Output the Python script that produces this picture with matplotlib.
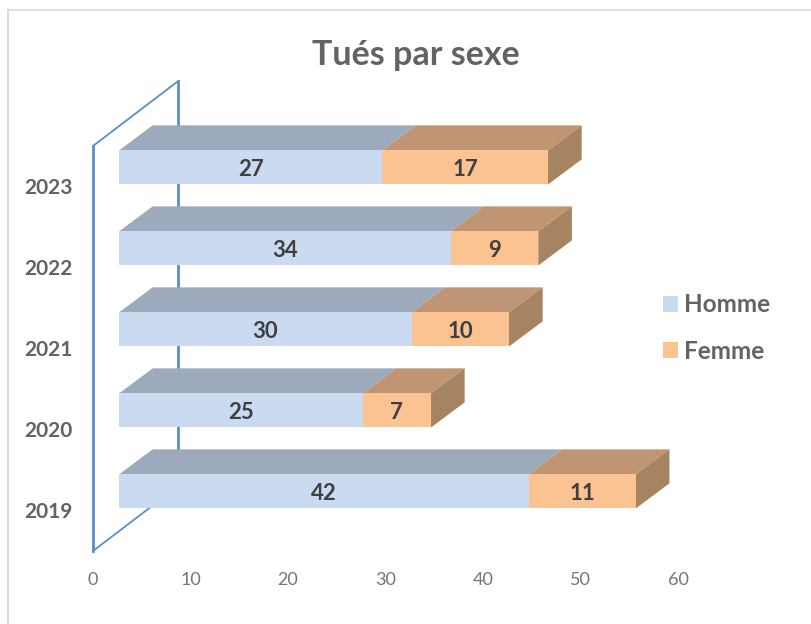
import matplotlib
matplotlib.use("Agg")
import matplotlib.pyplot as plt
from matplotlib.lines import Line2D
from matplotlib.patches import Patch

plt.rcParams["font.family"] = ["Lato", "DejaVu Sans"]

years = ["2019", "2020", "2021", "2022", "2023"]
homme = [42, 25, 30, 34, 27]
femme = [11, 7, 10, 9, 17]
xticks = [0, 10, 20, 30, 40, 50, 60]

W, H = 812, 624
fig = plt.figure(figsize=(W / 100, H / 100), dpi=100, facecolor="white")
# axes box = front plane of the wall
ax = fig.add_axes([93 / W, 1 - 551 / H, (678 - 93) / W, (551 - 146) / H])
ax.set_xlim(0, 60)
ax.set_ylim(-0.5, 4.5)
for s in ax.spines.values():
    s.set_visible(False)
ax.patch.set_visible(False)

# 3d look, in data units
wall_dx, wall_dy = 8.72, 0.80
shift_x, shift_y = 2.67, 0.235
depth_x, depth_y = 3.45, 0.31
bar_h = 0.42
label_dy = -0.03

blue = "#5B8DC8"
ax.plot([0, 0], [-0.5, 4.5], color=blue, lw=2, clip_on=False, zorder=1)
ax.plot([wall_dx, wall_dx], [-0.5 + wall_dy, 4.5 + wall_dy], color=blue, lw=2, clip_on=False, zorder=1)
ax.plot([0, wall_dx], [4.5, 4.5 + wall_dy], color=blue, lw=1.3, clip_on=False, zorder=1)
ax.plot([0, wall_dx], [-0.5, -0.5 + wall_dy], color=blue, lw=1.3, clip_on=False, zorder=1)


def top_face(x0, x1, y, color):
    yt = y + shift_y + bar_h / 2
    ax.fill([x0 + shift_x, x1 + shift_x, x1 + shift_x + depth_x, x0 + shift_x + depth_x],
            [yt, yt, yt + depth_y, yt + depth_y], color=color, lw=0, clip_on=False, zorder=3)


for i in range(len(years)):
    h, f = homme[i], femme[i]
    end = h + f
    yc = i + shift_y
    top_face(0, h, i, "#9CAABB")
    top_face(h, end, i, "#BF9573")
    # side face
    xr = end + shift_x
    ax.fill([xr, xr + depth_x, xr + depth_x, xr],
            [yc - bar_h / 2, yc - bar_h / 2 + depth_y, yc + bar_h / 2 + depth_y, yc + bar_h / 2],
            color="#A78461", lw=0, clip_on=False, zorder=3)
    ax.barh(yc, h, left=shift_x, height=bar_h, color="#C9DAF1", lw=0, zorder=4)
    ax.barh(yc, f, left=shift_x + h, height=bar_h, color="#FBC292", lw=0, zorder=4)
    ax.text(shift_x + h / 2, yc + label_dy, str(h), ha="center", va="center", fontsize=16,
            fontweight="bold", color="#404040", zorder=5)
    ax.text(shift_x + h + f / 2, yc + label_dy, str(f), ha="center", va="center", fontsize=16,
            fontweight="bold", color="#404040", zorder=5)

ax.set_xticks(xticks)
ax.set_yticks(range(len(years)))
ax.set_yticklabels(years, fontweight="bold", fontsize=15, color="#636363")
ax.tick_params(axis="y", length=0, pad=14.5)
ax.tick_params(axis="x", length=0, pad=15, labelsize=13, labelcolor="#757575")

fig.text(416 / W, 1 - 55 / H, "Tués par sexe", ha="center", va="center",
         fontsize=24.5, fontweight="bold", color="#636363")

handles = [Patch(color="#C9DAF1", lw=0), Patch(color="#FBC292", lw=0)]
fig.legend(handles, ["Homme", "Femme"], loc="center left",
           bbox_to_anchor=(641 / W, 1 - 328 / H), frameon=False,
           labelcolor="#636363", prop={"weight": "bold", "size": 17.5},
           handlelength=0.62, handleheight=0.62, handletextpad=0.24, labelspacing=0.95)

# chart border, cropped on right and bottom
fig.add_artist(Line2D([8.5 / W, 8.5 / W], [0, 1 - 10 / H], color="#D9D9D9", lw=1.5))
fig.add_artist(Line2D([8 / W, 1], [1 - 10 / H, 1 - 10 / H], color="#D9D9D9", lw=1.2))

fig.savefig("out.png", dpi=100)
